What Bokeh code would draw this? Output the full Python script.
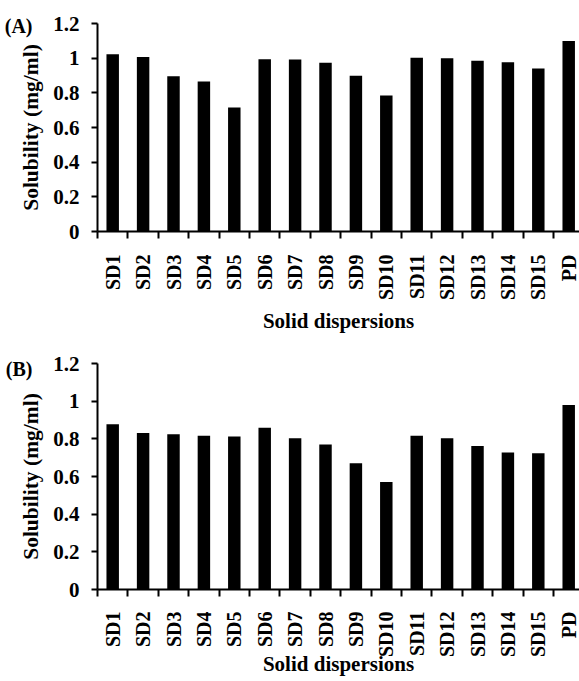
from bokeh.plotting import figure
from bokeh.layouts import column
from bokeh.models import FixedTicker, LinearAxis, ColumnDataSource
from bokeh.embed import file_html
from bokeh.resources import INLINE
import math

categories = ["SD1", "SD2", "SD3", "SD4", "SD5", "SD6", "SD7", "SD8", "SD9",
              "SD10", "SD11", "SD12", "SD13", "SD14", "SD15", "PD"]
solubility_a = [1.023, 1.007, 0.895, 0.866, 0.716, 0.994, 0.992, 0.973, 0.899,
                0.784, 1.003, 1.000, 0.985, 0.977, 0.940, 1.099]
solubility_b = [0.877, 0.831, 0.824, 0.816, 0.813, 0.859, 0.803, 0.770, 0.670,
                0.571, 0.816, 0.803, 0.762, 0.728, 0.723, 0.979]
y_ticks = [0, 0.2, 0.4, 0.6, 0.8, 1.0, 1.2]
y_tick_labels = ["0", "0.2", "0.4", "0.6", "0.8", "1", "1.2"]
panel_tags = ["(A)", "(B)"]
x_title = "Solid dispersions"
y_title = "Solubility (mg/ml)"

FONT = "'Liberation Serif', 'Times New Roman', serif"


def make_panel(values, tag, height, top, bottom, label_standoff, title_standoff, tag_at):
    xs = list(range(len(categories)))
    src = ColumnDataSource(dict(x=xs, top=values, cat=categories))
    p = figure(width=579, height=height, x_range=(-0.5, 15.355), y_range=(0, 1.2),
               output_backend="svg", toolbar_location=None, title=None,
               min_border_left=97, min_border_right=0, min_border_top=top,
               min_border_bottom=bottom)
    p.vbar(x="x", top="top", width=0.41, bottom=0, source=src,
           fill_color="black", line_color=None)
    p.grid.visible = False
    p.outline_line_color = None
    p.background_fill_color = "white"
    p.border_fill_color = "white"

    xa = p.xaxis[0]
    xa.ticker = FixedTicker(ticks=xs, minor_ticks=[i - 0.5 for i in xs])
    xa.major_label_overrides = {i: c for i, c in zip(xs, categories)}
    xa.major_label_orientation = math.pi / 2
    xa.major_tick_out = 0
    xa.major_tick_in = 0
    xa.major_tick_line_color = None
    xa.minor_tick_out = 7
    xa.minor_tick_in = 0
    xa.minor_tick_line_width = 2
    xa.minor_tick_line_color = "black"
    xa.axis_line_width = 2
    xa.axis_line_color = "black"
    xa.major_label_standoff = label_standoff
    xa.major_label_text_font = FONT
    xa.major_label_text_font_style = "bold"
    xa.major_label_text_font_size = "20px"
    xa.major_label_text_color = "black"
    xa.axis_label = x_title
    xa.axis_label_text_font = FONT
    xa.axis_label_text_font_style = "bold"
    xa.axis_label_text_font_size = "21px"
    xa.axis_label_text_color = "black"
    xa.axis_label_standoff = title_standoff

    ya = p.yaxis[0]
    ya.ticker = FixedTicker(ticks=y_ticks, minor_ticks=[])
    ya.major_label_overrides = {t: l for t, l in zip(y_ticks, y_tick_labels)}
    ya.major_tick_out = 6
    ya.major_tick_in = 0
    ya.major_tick_line_width = 2
    ya.major_tick_line_color = "black"
    ya.axis_line_width = 2
    ya.axis_line_color = "black"
    ya.major_label_standoff = 12
    ya.major_label_text_font = FONT
    ya.major_label_text_font_style = "bold"
    ya.major_label_text_font_size = "21px"
    ya.major_label_text_color = "black"
    ya.axis_label = y_title
    ya.axis_label_text_font = FONT
    ya.axis_label_text_font_style = "bold"
    ya.axis_label_text_font_size = "21.5px"
    ya.axis_label_text_color = "black"
    ya.axis_label_standoff = 7

    # panel tag "(A)"/"(B)" drawn as a tick label of an extra bare axis
    tag_axis = LinearAxis(ticker=FixedTicker(ticks=[tag_at], minor_ticks=[]),
                          major_label_overrides={tag_at: tag})
    tag_axis.axis_line_color = None
    tag_axis.major_tick_line_color = None
    tag_axis.major_tick_out = 0
    tag_axis.major_tick_in = 0
    tag_axis.major_label_standoff = -16
    tag_axis.major_label_text_font = FONT
    tag_axis.major_label_text_font_style = "bold"
    tag_axis.major_label_text_font_size = "20px"
    tag_axis.major_label_text_color = "black"
    p.add_layout(tag_axis, "left")
    return p


pa = make_panel(solubility_a, panel_tags[0], height=336, top=23, bottom=104,
                label_standoff=16, title_standoff=6, tag_at=1.187)
pb = make_panel(solubility_b, panel_tags[1], height=345, top=27, bottom=92,
                label_standoff=15, title_standoff=-8, tag_at=1.17)

layout = column(pa, pb, spacing=0)
open("out.html", "w").write(file_html(layout, INLINE))
